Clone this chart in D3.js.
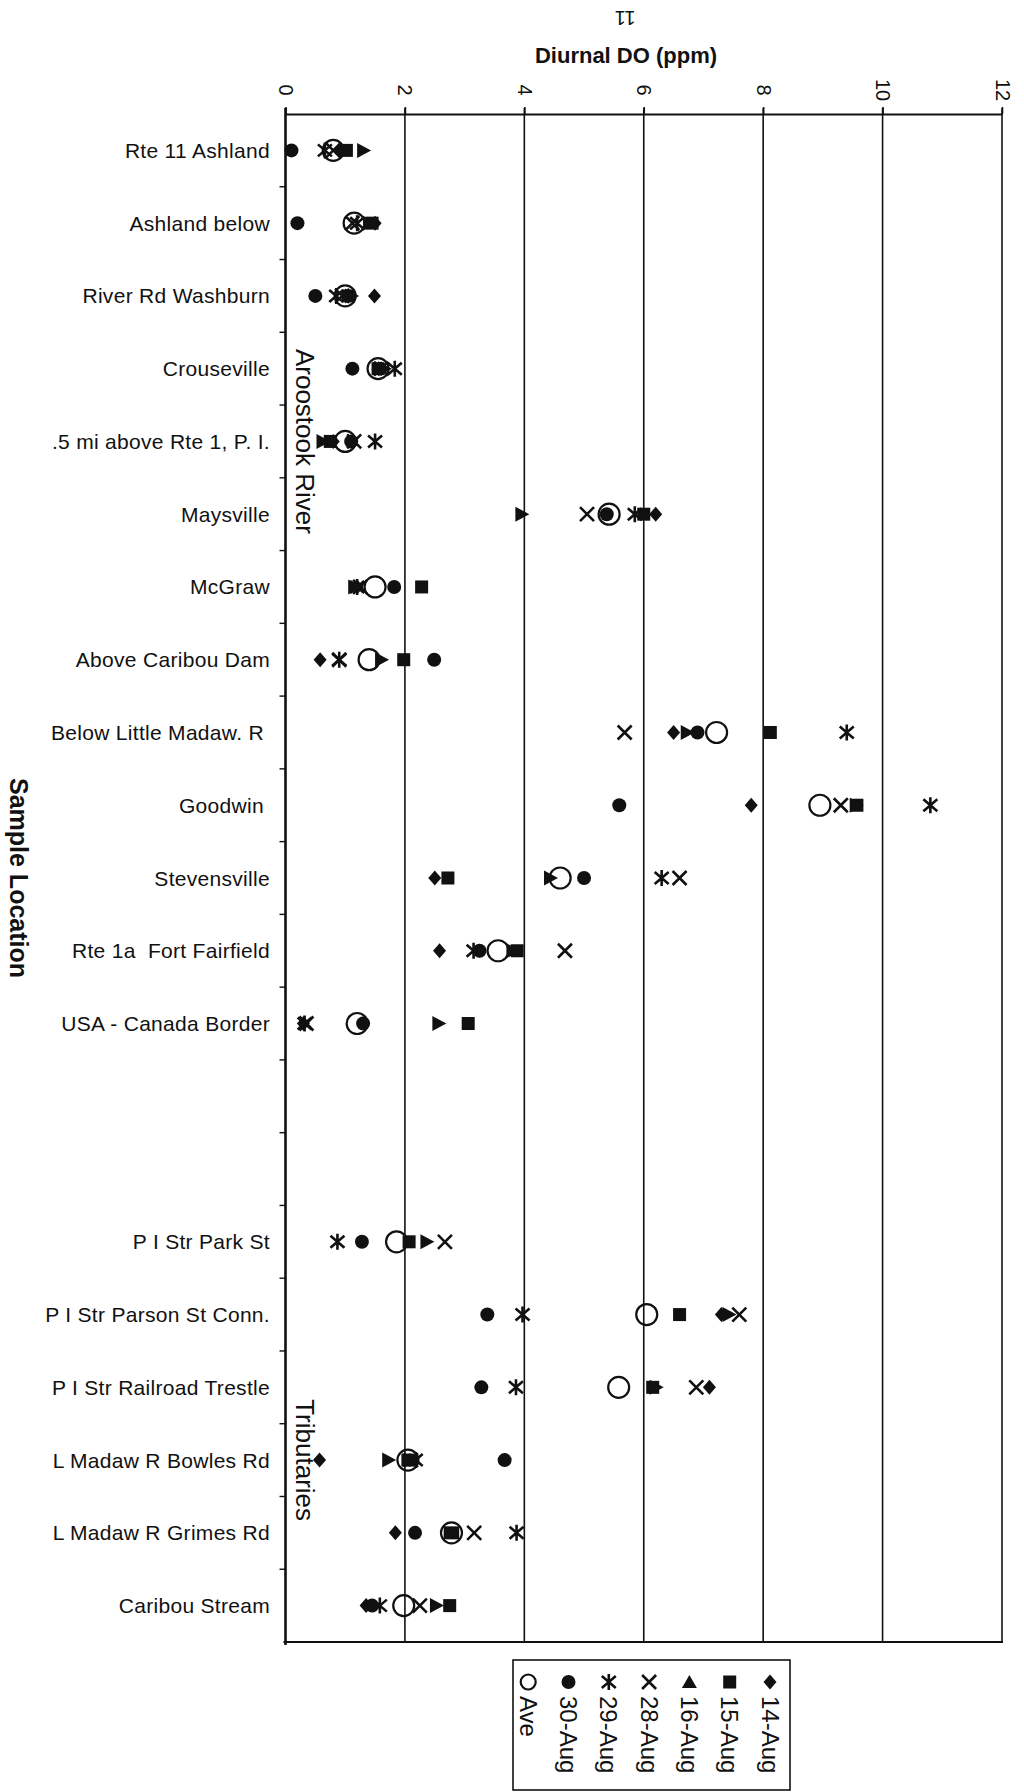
<!DOCTYPE html>
<html>
<head>
<meta charset="utf-8">
<script src="https://cdn.jsdelivr.net/npm/d3@7"></script>
<style>
  html, body { margin: 0; padding: 0; background: #fff; }
  svg { display: block; }
  text { font-family: "Liberation Sans", Arial, Helvetica, sans-serif; fill: #111; }
</style>
</head>
<body>
<svg id="chart" width="1024" height="1792"></svg>
<script>
// Sample locations (blank entries separate the river from the tributaries)
const locations = [
  "Rte 11 Ashland", "Ashland below", "River Rd Washburn", "Crouseville",
  ".5 mi above Rte 1, P. I.", "Maysville", "McGraw", "Above Caribou Dam",
  "Below Little Madaw. R ", "Goodwin ", "Stevensville", "Rte 1a  Fort Fairfield",
  "USA - Canada Border", "", "",
  "P I Str Park St", "P I Str Parson St Conn.", "P I Str Railroad Trestle",
  "L Madaw R Bowles Rd", "L Madaw R Grimes Rd", "Caribou Stream"
];

// Diurnal DO swing (ppm) per sampling date, same order as locations
const aug14 = [0.9, 1.5, 1.49, 1.6, 0.8, 6.2, 1.2, 0.58, 6.5, 7.8, 2.5, 2.58, 0.3, null, null,
               null, 7.3, 7.1, 0.57, 1.84, 1.35];
const aug15 = [1.02, 1.45, 1.05, 1.55, 0.75, 6.0, 2.28, 1.98, 8.12, 9.57, 2.72, 3.88, 3.06, null, null,
               2.07, 6.6, 6.15, 2.05, 2.8, 2.75];
const aug16 = [1.3, 1.4, 1.1, 1.65, 0.62, 3.95, 1.15, 1.6, 6.72, 9.55, 4.43, 3.8, 2.56, null, null,
               2.36, 7.42, 6.2, 1.72, 2.75, 2.52];
const aug28 = [0.8, 1.12, 0.95, 1.6, 1.15, 5.05, 1.25, 0.9, 5.68, 9.3, 6.6, 4.68, 0.35, null, null,
               2.67, 7.6, 6.88, 2.1, 3.16, 2.25];
const aug29 = [0.66, 1.2, 0.85, 1.83, 1.5, 5.85, 1.2, 0.9, 9.4, 10.8, 6.3, 3.15, 0.32, null, null,
               0.87, 3.97, 3.86, 2.18, 3.87, 1.58];
const aug30 = [0.1, 0.2, 0.5, 1.12, 1.1, 5.38, 1.82, 2.49, 6.9, 5.59, 5.0, 3.25, 1.3, null, null,
               1.28, 3.38, 3.28, 3.67, 2.17, 1.45];
const average = [0.8, 1.15, 1.0, 1.55, 1.0, 5.42, 1.5, 1.4, 7.22, 8.95, 4.6, 3.56, 1.2, null, null,
               1.86, 6.05, 5.58, 2.05, 2.78, 1.98];

const seriesNames = ["14-Aug", "15-Aug", "16-Aug", "28-Aug", "29-Aug", "30-Aug", "Ave"];
const seriesValues = [aug14, aug15, aug16, aug28, aug29, aug30, average];
const markerTypes = ["diamond", "square", "triangle", "cross", "star", "dot", "ring"];

const xTicks = [0, 2, 4, 6, 8, 10, 12];
const groupLabels = [
  { text: "Aroostook River", from: 3, to: 6 },
  { text: "Tributaries", from: 17, to: 20 }
];

const svg = d3.select("#chart");
const ink = "#111";

const x = d3.scaleLinear().domain([0, 12]).range([285.5, 1002]);
const y = d3.scaleBand().domain(d3.range(locations.length)).range([114, 1642]).padding(0);

const plotTop = y.range()[0], plotBottom = y.range()[1];

// Page number
svg.append("text")
  .attr("transform", "translate(625,18) rotate(180)")
  .attr("text-anchor", "middle").attr("dominant-baseline", "central")
  .style("font-size", "20px").text("11");

// Value axis title
svg.append("text")
  .attr("x", 626).attr("y", 55)
  .attr("text-anchor", "middle").attr("dominant-baseline", "central")
  .style("font-size", "22px").style("font-weight", "bold")
  .text("Diurnal DO (ppm)");

// Vertical gridlines (the one at 12 closes the frame)
svg.append("g").selectAll("line").data(xTicks.slice(1)).join("line")
  .attr("x1", d => x(d)).attr("x2", d => x(d))
  .attr("y1", plotTop - 6).attr("y2", plotBottom)
  .attr("stroke", ink).attr("stroke-width", 1.6);

// Top axis with rotated labels
const topAxis = svg.append("g").attr("transform", `translate(0,${plotTop})`)
  .call(d3.axisTop(x).tickValues(xTicks).tickSize(7).tickSizeOuter(0).tickFormat(d3.format("d")));
topAxis.select(".domain").attr("stroke", ink).attr("stroke-width", 2.2);
topAxis.selectAll(".tick line").attr("stroke", ink).attr("stroke-width", 1.6);
topAxis.selectAll(".tick text")
  .attr("y", null).attr("dy", null)
  .attr("transform", "translate(0,-24) rotate(90)")
  .attr("text-anchor", "middle").attr("dominant-baseline", "central")
  .style("font-size", "20px").attr("fill", ink);

// Bottom frame line
svg.append("line")
  .attr("x1", x(0) - 2).attr("x2", x(12) + 1)
  .attr("y1", plotBottom).attr("y2", plotBottom)
  .attr("stroke", ink).attr("stroke-width", 2);

// Category axis: line, boundary ticks and location labels
svg.append("line")
  .attr("x1", x(0)).attr("x2", x(0))
  .attr("y1", plotTop - 6).attr("y2", plotBottom + 3)
  .attr("stroke", ink).attr("stroke-width", 2.6);

svg.append("g").selectAll("line").data(d3.range(1, locations.length)).join("line")
  .attr("x1", x(0) - 6).attr("x2", x(0))
  .attr("y1", d => plotTop + d * y.step()).attr("y2", d => plotTop + d * y.step())
  .attr("stroke", ink).attr("stroke-width", 1.4);

svg.append("g").selectAll("text").data(locations).join("text")
  .attr("x", 270)
  .attr("y", (d, i) => y(i) + y.bandwidth() / 2)
  .attr("text-anchor", "end").attr("dominant-baseline", "central")
  .style("font-size", "21px").style("letter-spacing", "0.3px").style("white-space", "pre")
  .text(d => d);

// Category axis title
svg.append("text")
  .attr("transform", "translate(19,878) rotate(90)")
  .attr("text-anchor", "middle").attr("dominant-baseline", "central")
  .style("font-size", "25px").style("font-weight", "bold")
  .text("Sample Location");

// Group labels inside the plot
svg.append("g").selectAll("text").data(groupLabels).join("text")
  .attr("transform", d => {
    const cy = (y(d.from) + y(d.to) + y.bandwidth()) / 2 - y.bandwidth() / 2;
    return `translate(${x(0) + 19},${cy}) rotate(90)`;
  })
  .attr("text-anchor", "middle").attr("dominant-baseline", "central")
  .style("font-size", "26px")
  .text(d => d.text);

// Marker drawing
function drawMarker(g, type, ringRadius = 10.5) {
  switch (type) {
    case "diamond":
      g.append("path").attr("d", "M0,-7.5L6.5,0L0,7.5L-6.5,0Z").attr("fill", ink);
      break;
    case "square":
      g.append("rect").attr("x", -6.5).attr("y", -6.5).attr("width", 13).attr("height", 13).attr("fill", ink);
      break;
    case "triangle":
      g.append("path").attr("d", "M-6,-7.5L8,0L-6,7.5Z").attr("fill", ink);
      break;
    case "cross":
      g.append("path").attr("d", "M-7,-7L7,7M-7,7L7,-7")
        .attr("stroke", ink).attr("stroke-width", 2.6).attr("fill", "none");
      break;
    case "star":
      g.append("path").attr("d", "M-7,-6L7,6M-7,6L7,-6M0,-8L0,8")
        .attr("stroke", ink).attr("stroke-width", 2.6).attr("fill", "none");
      break;
    case "dot":
      g.append("circle").attr("r", 7).attr("fill", ink);
      break;
    case "ring":
      g.append("circle").attr("r", ringRadius).attr("fill", "none")
        .attr("stroke", ink).attr("stroke-width", 2.2);
      break;
  }
}

// Points, one layer per sampling date (average drawn last)
seriesValues.forEach((vals, s) => {
  const layer = svg.append("g").attr("class", "series-" + s);
  vals.forEach((v, i) => {
    if (v == null) return;
    const g = layer.append("g")
      .attr("transform", `translate(${x(v)},${y(i) + y.bandwidth() / 2})`);
    drawMarker(g, markerTypes[s]);
  });
});

// Legend (rotated entries, first series on the right)
const legend = svg.append("g");
legend.append("rect")
  .attr("x", 513).attr("y", 1660).attr("width", 277).attr("height", 130)
  .attr("fill", "none").attr("stroke", ink).attr("stroke-width", 1.6);

seriesNames.forEach((name, s) => {
  const cx = 770 - s * 40.3;
  const g = legend.append("g").attr("transform", `translate(${cx},1682)`);
  if (markerTypes[s] === "triangle") {
    g.append("path").attr("d", "M0,-7L7.5,6L-7.5,6Z").attr("fill", ink);
  } else {
    drawMarker(g, markerTypes[s], 7.5);
  }
  legend.append("text")
    .attr("transform", `translate(${cx},1696) rotate(90)`)
    .attr("text-anchor", "start").attr("dominant-baseline", "central")
    .style("font-size", "24px")
    .text(name);
});
</script>
</body>
</html>
